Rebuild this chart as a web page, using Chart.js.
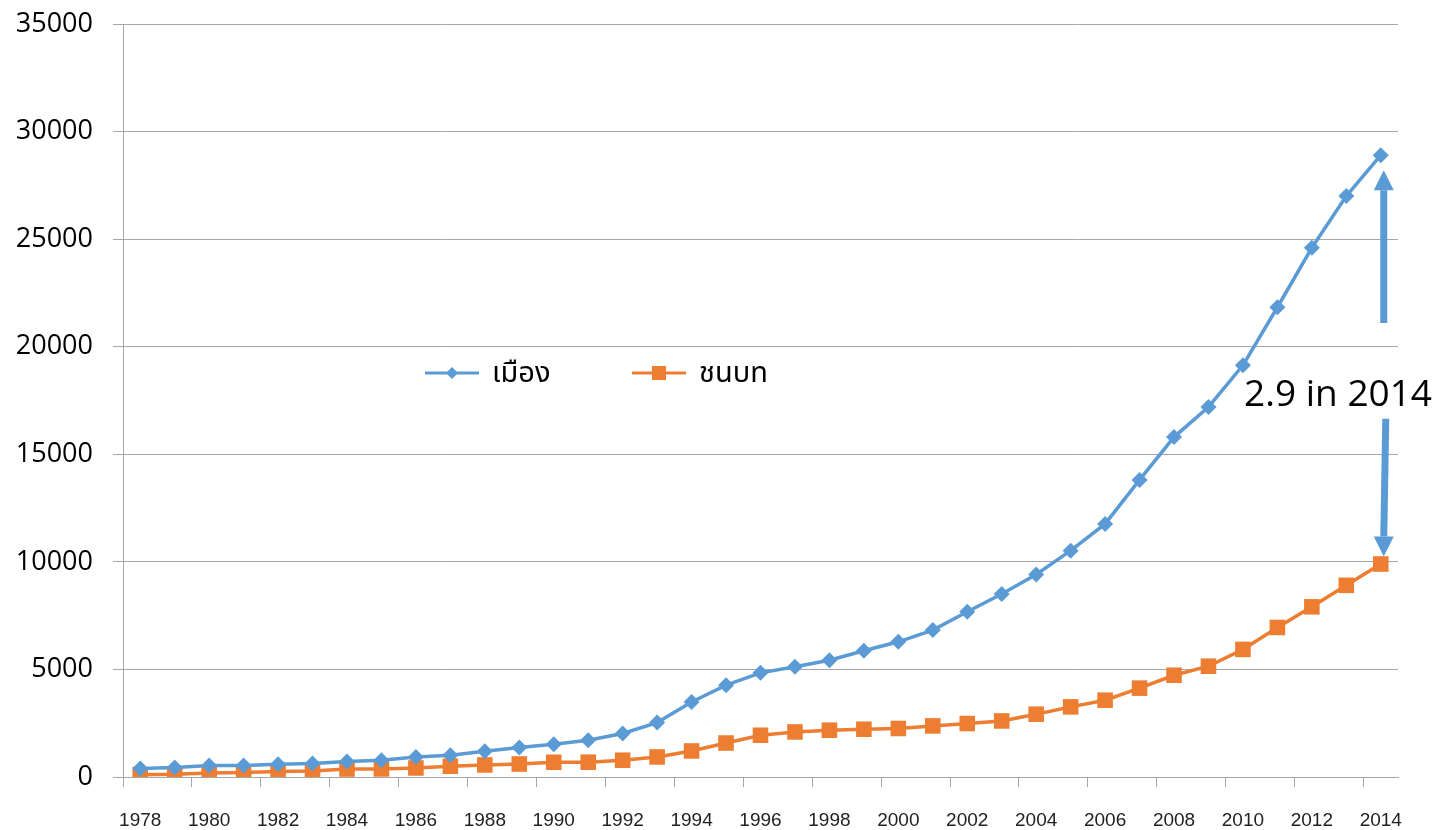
<!DOCTYPE html>
<html>
<head>
<meta charset="utf-8">
<script src="https://cdn.jsdelivr.net/npm/chart.js@4.4.1/dist/chart.umd.min.js"></script>
<style>
  html, body { margin: 0; padding: 0; background: #fff; }
  #wrap { width: 1445px; height: 830px; }
</style>
</head>
<body>
<div id="wrap"><canvas id="incomeChart" width="1445" height="830"></canvas></div>
<script>
const years = ['1978','1979','1980','1981','1982','1983','1984','1985','1986','1987',
  '1988','1989','1990','1991','1992','1993','1994','1995','1996','1997','1998','1999',
  '2000','2001','2002','2003','2004','2005','2006','2007','2008','2009','2010','2011',
  '2012','2013','2014'];

// เมือง (urban)
const urban = [390, 440, 530, 540, 590, 625, 715, 780, 930, 1010, 1200, 1370, 1520, 1710,
  2020, 2530, 3490, 4270, 4840, 5120, 5430, 5870, 6285, 6830, 7680, 8505, 9410, 10520,
  11765, 13810, 15800, 17200, 19135, 21835, 24600, 27000, 28900];

// ชนบท (rural)
const rural = [110, 125, 185, 205, 250, 280, 370, 375, 420, 500, 560, 605, 685, 690,
  780, 930, 1210, 1580, 1940, 2095, 2175, 2220, 2255, 2375, 2485, 2605, 2920, 3260,
  3570, 4130, 4730, 5150, 5930, 6950, 7910, 8910, 9900];

const seriesNames = ['เมือง', 'ชนบท'];
const ratioNote = '2.9 in 2014';
// arrow ends, in data units (y axis)
const upArrow = [21100, 28200];
const downArrow = [16650, 10250];

const BLUE = '#5B9BD5';
const ORANGE = '#ED7D31';
const GRID = '#A6A6A6';

// legend sits inside the plot, drawn by hand
const insideLegend = {
    id: 'insideLegend',
    afterDraw(chart) {
        const ctx = chart.ctx;
        const a = chart.chartArea;
        const y = a.top + 349;
        const items = [
            { x: a.left + 302, color: BLUE, style: 'diamond' },
            { x: a.left + 509, color: ORANGE, style: 'square' }
        ];
        ctx.save();
        items.forEach((it, i) => {
            ctx.strokeStyle = it.color;
            ctx.fillStyle = it.color;
            ctx.lineWidth = 3;
            ctx.beginPath();
            ctx.moveTo(it.x, y);
            ctx.lineTo(it.x + 54, y);
            ctx.stroke();
            const cx = it.x + 27;
            ctx.beginPath();
            if (it.style === 'diamond') {
                ctx.moveTo(cx, y - 6);
                ctx.lineTo(cx + 6, y);
                ctx.lineTo(cx, y + 6);
                ctx.lineTo(cx - 6, y);
                ctx.closePath();
            } else {
                ctx.rect(cx - 7, y - 7, 14, 14);
            }
            ctx.fill();
            ctx.fillStyle = '#000';
            ctx.font = '29px "Noto Sans Thai", "Noto Sans", sans-serif';
            ctx.textBaseline = 'middle';
            ctx.textAlign = 'left';
            ctx.fillText(seriesNames[i], it.x + 67, y + 3);
        });
        ctx.restore();
    }
};

function drawArrow(ctx, x0, y0, x1, y1) {
    const dir = y1 < y0 ? -1 : 1;
    const headLen = 20;
    ctx.beginPath();
    ctx.moveTo(x0, y0);
    ctx.lineTo(x1, y1 - dir * headLen);
    ctx.stroke();
    ctx.beginPath();
    ctx.moveTo(x1, y1);
    ctx.lineTo(x1 - 10, y1 - dir * headLen);
    ctx.lineTo(x1 + 10, y1 - dir * headLen);
    ctx.closePath();
    ctx.fill();
}

const ratioArrows = {
    id: 'ratioArrows',
    afterDraw(chart) {
        const ctx = chart.ctx;
        const xs = chart.scales.x;
        const ys = chart.scales.y;
        const xp = xs.getPixelForValue(years.length - 1);
        ctx.save();
        ctx.strokeStyle = BLUE;
        ctx.fillStyle = BLUE;
        ctx.lineWidth = 7;
        drawArrow(ctx, xp + 3, ys.getPixelForValue(upArrow[0]), xp + 3, ys.getPixelForValue(upArrow[1]));
        drawArrow(ctx, xp + 5, ys.getPixelForValue(downArrow[0]), xp + 3, ys.getPixelForValue(downArrow[1]));
        ctx.fillStyle = '#000';
        ctx.font = '37px "Open Sans", sans-serif';
        ctx.textAlign = 'right';
        ctx.textBaseline = 'alphabetic';
        ctx.fillText(ratioNote, chart.chartArea.right + 34, ys.getPixelForValue(17240));
        ctx.restore();
    }
};

new Chart(document.getElementById('incomeChart'), {
    type: 'line',
    data: {
        labels: years,
        datasets: [
            {
                label: seriesNames[0],
                data: urban,
                borderColor: BLUE,
                backgroundColor: BLUE,
                borderWidth: 3.5,
                pointStyle: 'rectRot',
                pointRadius: 8,
                pointBorderWidth: 0,
                tension: 0
            },
            {
                label: seriesNames[1],
                data: rural,
                borderColor: ORANGE,
                backgroundColor: ORANGE,
                borderWidth: 3.5,
                pointStyle: 'rect',
                pointRadius: 11,
                pointBorderWidth: 0,
                tension: 0
            }
        ]
    },
    options: {
        responsive: false,
        animation: false,
        layout: { padding: { top: 24, right: 47, left: 0, bottom: 0 } },
        plugins: {
            legend: { display: false },
            tooltip: { enabled: false }
        },
        scales: {
            x: {
                offset: true,
                grid: {
                    offset: true,
                    drawOnChartArea: false,
                    drawTicks: true,
                    tickLength: 10,
                    tickColor: (c) => (c.index % 2 === 0 ? GRID : 'rgba(0,0,0,0)')
                },
                border: { color: GRID, width: 1 },
                ticks: {
                    autoSkip: false,
                    maxRotation: 0,
                    padding: 22,
                    color: '#222',
                    font: { family: 'Liberation Sans', size: 19 },
                    callback: function (v, i) { return i % 2 === 0 ? years[i] : ''; }
                },
                afterFit: (s) => { s.height = 53; }
            },
            y: {
                min: 0,
                max: 35000,
                ticks: {
                    stepSize: 5000,
                    padding: 20,
                    color: '#000',
                    font: { family: 'Open Sans', size: 27 },
                    callback: (v) => String(v)
                },
                grid: { color: GRID, lineWidth: 1, tickLength: 10 },
                border: { color: GRID, width: 1 },
                afterFit: (s) => { s.width = 123; s.paddingTop = 0; s.paddingBottom = 0; }
            }
        }
    },
    plugins: [insideLegend, ratioArrows]
});
</script>
</body>
</html>
